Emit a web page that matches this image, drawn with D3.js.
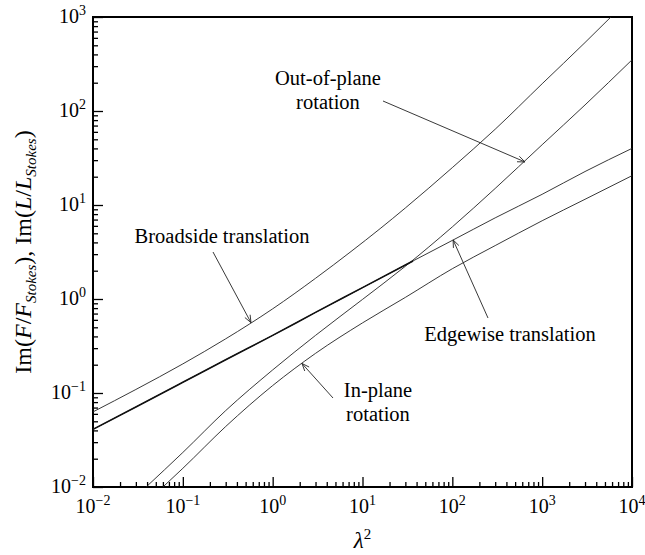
<!DOCTYPE html>
<html>
<head>
<meta charset="utf-8">
<script src="https://cdn.jsdelivr.net/npm/d3@7"></script>
<style>
  body { margin: 0; background: #fff; }
</style>
</head>
<body>
<div id="chart"></div>
<script>
// données (lambda^2, valeur)
const lam2Broadside = [0.01, 0.03, 0.1, 0.3, 1, 3, 7.45, 15.7, 30, 100, 300, 1000, 3000, 5700, 10000];
const broadside     = [0.063, 0.109, 0.204, 0.377, 0.786, 1.66, 3.2, 5.6, 9.3, 25, 64, 195, 535, 980, 1650];

const lam2Edgewise = [0.01, 0.03, 0.1, 0.3, 1, 3, 10, 30, 36.5, 100, 300, 1000, 3000, 10000];
const edgewise     = [0.041, 0.071, 0.13, 0.226, 0.41, 0.72, 1.32, 2.3, 2.54, 4.2, 7.3, 13, 22.7, 40];

const lam2OutPlane = [0.039, 0.1, 0.3, 1, 3, 10, 30, 100, 300, 1000, 3000, 10000];
const outPlane     = [0.01, 0.0233, 0.065, 0.176, 0.41, 0.99, 2.23, 5.85, 15, 43.8, 116, 350];

const lam2InPlane = [0.06, 0.1, 0.3, 1, 3, 10, 30, 100, 300, 1000, 3000, 10000];
const inPlane     = [0.01, 0.0158, 0.044, 0.12, 0.264, 0.557, 1.04, 2.1, 3.7, 6.8, 11.5, 20.5];

const xDecades = [-2, -1, 0, 1, 2, 3, 4];
const yDecades = [-2, -1, 0, 1, 2, 3];

// annotations : texte, position du texte, queue et pointe de la flèche
const labels = [
  {lines: ["Out-of-plane", "rotation"], x: 328, y: 85, from: [383, 101], to: [644, 28.7]},
  {lines: ["Broadside translation"], x: 222, y: 243, from: [213, 252], to: [0.574, 0.56]},
  {lines: ["Edgewise translation"], x: 510, y: 341, from: [488, 318], to: [102, 4.25]},
  {lines: ["In-plane", "rotation"], x: 378, y: 397, from: [333, 398], to: [2.12, 0.206]}
];

const W = 645, H = 555;
const margin = {top: 17, right: 13, bottom: 68, left: 93};
const width = W - margin.left - margin.right,
      height = H - margin.top - margin.bottom;
const FONT = "'Liberation Serif', 'Times New Roman', Times, 'DejaVu Serif', serif";

const svg = d3.select("#chart").append("svg")
  .attr("width", W).attr("height", H)
  .attr("font-family", FONT);

const g = svg.append("g")
  .attr("transform", "translate(" + margin.left + "," + margin.top + ")");

const x = d3.scaleLog().domain([1e-2, 1e4]).range([0, width]);
const y = d3.scaleLog().domain([1e-2, 1e3]).range([height, 0]);

svg.append("defs").append("clipPath").attr("id", "clip")
  .append("rect").attr("width", width).attr("height", height);

// ticks mineurs / majeurs
const minor = (decs) => {
  let t = [];
  decs.slice(0, -1).forEach(d => { for (let k = 2; k < 10; k++) t.push(k * Math.pow(10, d)); });
  return t;
};
const majorX = xDecades.map(d => Math.pow(10, d));
const majorY = yDecades.map(d => Math.pow(10, d));

g.append("g").attr("transform", "translate(0," + height + ")")
  .call(d3.axisBottom(x).tickValues(minor(xDecades)).tickSize(-5).tickFormat(""));
g.append("g").attr("transform", "translate(0," + height + ")")
  .call(d3.axisBottom(x).tickValues(majorX).tickSize(-10).tickFormat(""));
g.append("g")
  .call(d3.axisLeft(y).tickValues(minor(yDecades)).tickSize(-5).tickFormat(""));
g.append("g")
  .call(d3.axisLeft(y).tickValues(majorY).tickSize(-10).tickFormat(""));

g.selectAll(".domain").remove();
g.selectAll(".tick line").attr("stroke", "#000").attr("stroke-width", 1.3);

// cadre
g.append("rect").attr("width", width).attr("height", height)
  .attr("fill", "none").attr("stroke", "#000").attr("stroke-width", 2);

const sup = (n) => n < 0 ? "\u2212" + (-n) : "" + n;

// labels x
xDecades.forEach(d => {
  const t = g.append("text")
    .attr("x", x(Math.pow(10, d))).attr("y", height + 26)
    .attr("text-anchor", "middle").attr("font-size", 20)
    .attr("font-family", FONT);
  t.append("tspan").text("10");
  t.append("tspan").attr("dy", -8).attr("font-size", 14).text(sup(d));
});

// labels y
yDecades.forEach(d => {
  const t = g.append("text")
    .attr("x", -7).attr("y", y(Math.pow(10, d)) + 6)
    .attr("text-anchor", "end").attr("font-size", 20)
    .attr("font-family", FONT);
  t.append("tspan").text("10");
  t.append("tspan").attr("dy", -8).attr("font-size", 14).text(sup(d));
});

// titre axe x
const xt = svg.append("text")
  .attr("x", margin.left + x(10)).attr("y", 548)
  .attr("text-anchor", "middle").attr("font-size", 23)
  .attr("font-family", FONT);
xt.append("tspan").attr("font-style", "italic").text("λ");
xt.append("tspan").attr("dy", -9).attr("font-size", 15).text("2");

// titre axe y
const yt = svg.append("text")
  .attr("transform", "translate(31," + (margin.top + height / 2) + ") rotate(-90)")
  .attr("text-anchor", "middle").attr("font-size", 24)
  .attr("font-family", FONT);
yt.append("tspan").text("Im(");
yt.append("tspan").attr("font-style", "italic").text("F");
yt.append("tspan").text("/");
yt.append("tspan").attr("font-style", "italic").text("F");
yt.append("tspan").attr("font-style", "italic").attr("font-size", 15).attr("dy", 5).text("Stokes");
yt.append("tspan").attr("dy", -5).text("),  Im(");
yt.append("tspan").attr("font-style", "italic").text("L");
yt.append("tspan").text("/");
yt.append("tspan").attr("font-style", "italic").text("L");
yt.append("tspan").attr("font-style", "italic").attr("font-size", 15).attr("dy", 5).text("Stokes");
yt.append("tspan").attr("dy", -5).text(")");

// courbes
const line = d3.line()
  .x(d => x(d[0])).y(d => y(d[1]))
  .curve(d3.curveMonotoneX);

const curves = [
  {xs: lam2Broadside, ys: broadside},
  {xs: lam2Edgewise, ys: edgewise},
  {xs: lam2OutPlane, ys: outPlane},
  {xs: lam2InPlane, ys: inPlane}
];

const plot = g.append("g").attr("clip-path", "url(#clip)");
curves.forEach(c => {
  plot.append("path")
    .datum(d3.zip(c.xs, c.ys))
    .attr("d", line)
    .attr("fill", "none")
    .attr("stroke", "#222")
    .attr("stroke-width", 0.9);
});

// partie épaisse (edgewise) jusqu'au croisement
plot.append("path")
  .datum(d3.zip(lam2Edgewise, edgewise).filter(d => d[0] <= 36.5))
  .attr("d", line)
  .attr("fill", "none")
  .attr("stroke", "#111")
  .attr("stroke-width", 1.6);

// annotations
labels.forEach(l => {
  const t = svg.append("text")
    .attr("text-anchor", "middle").attr("font-size", 20.5)
    .attr("font-family", FONT);
  l.lines.forEach((s, i) => {
    t.append("tspan").attr("x", l.x).attr("y", l.y + i * 24).text(s);
  });
  const x1 = l.from[0], y1 = l.from[1];
  const x2 = margin.left + x(l.to[0]), y2 = margin.top + y(l.to[1]);
  svg.append("line")
    .attr("x1", x1).attr("y1", y1).attr("x2", x2).attr("y2", y2)
    .attr("stroke", "#222").attr("stroke-width", 0.9);
  const a = Math.atan2(y2 - y1, x2 - x1), len = 8, sp = 0.38;
  svg.append("path")
    .attr("d", "M" + (x2 - len * Math.cos(a - sp)) + "," + (y2 - len * Math.sin(a - sp)) +
               "L" + x2 + "," + y2 +
               "L" + (x2 - len * Math.cos(a + sp)) + "," + (y2 - len * Math.sin(a + sp)))
    .attr("fill", "none").attr("stroke", "#222").attr("stroke-width", 0.9);
});
</script>
</body>
</html>
